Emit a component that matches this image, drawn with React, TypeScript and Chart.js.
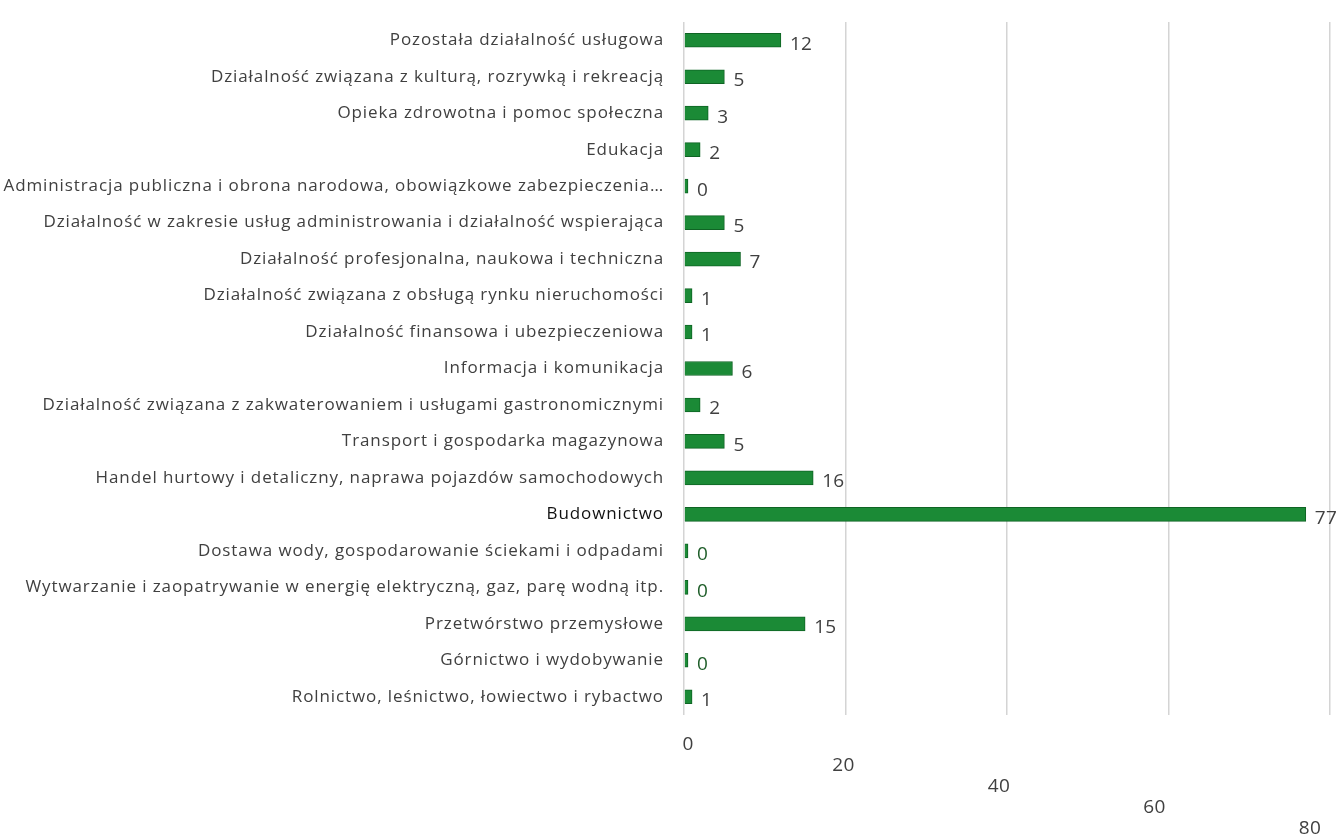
import React, { useEffect, useRef } from "react";
import { Chart, registerables } from "chart.js";
Chart.register(...registerables);

const categories = [
  "Pozostała działalność usługowa",
  "Działalność związana z kulturą, rozrywką i rekreacją",
  "Opieka zdrowotna i pomoc społeczna",
  "Edukacja",
  "Administracja publiczna i obrona narodowa, obowiązkowe zabezpieczenia…",
  "Działalność w zakresie usług administrowania i działalność wspierająca",
  "Działalność profesjonalna, naukowa i techniczna",
  "Działalność związana z obsługą rynku nieruchomości",
  "Działalność finansowa i ubezpieczeniowa",
  "Informacja i komunikacja",
  "Działalność związana z zakwaterowaniem i usługami gastronomicznymi",
  "Transport i gospodarka magazynowa",
  "Handel hurtowy i detaliczny, naprawa pojazdów samochodowych",
  "Budownictwo",
  "Dostawa wody, gospodarowanie ściekami i odpadami",
  "Wytwarzanie i zaopatrywanie w energię elektryczną, gaz, parę wodną itp.",
  "Przetwórstwo przemysłowe",
  "Górnictwo i wydobywanie",
  "Rolnictwo, leśnictwo, łowiectwo i rybactwo",
];
const values = [12, 5, 3, 2, 0, 5, 7, 1, 1, 6, 2, 5, 16, 77, 0, 0, 15, 0, 1];
const xTicks = [0, 20, 40, 60, 80];

const FONT = "'Open Sans', 'Noto Sans', sans-serif";

export default function App() {
  const ref = useRef<HTMLCanvasElement | null>(null);
  useEffect(() => {
    document.body.style.margin = "0";
    const canvas = ref.current;
    if (!canvas) return;
    const spacing = (chart: any, v: string) => {
      (chart.ctx as any).letterSpacing = v;
    };
    const labelPlugin = {
      id: "labels",
      beforeUpdate(chart: any) {
        spacing(chart, "0.9px");
      },
      beforeLayout(chart: any) {
        spacing(chart, "0.9px");
      },
      beforeDraw(chart: any) {
        spacing(chart, "0.9px");
      },
      afterDatasetsDraw(chart: any) {
        const ctx = chart.ctx;
        const meta = chart.getDatasetMeta(0);
        ctx.save();
        ctx.letterSpacing = "0.3px";
        ctx.font = `19px ${FONT}`;
        ctx.textAlign = "left";
        ctx.textBaseline = "middle";
        meta.data.forEach((bar: any, i: number) => {
          ctx.fillStyle = values[i] === 0 && i > 10 ? "#1f5e2a" : "#404040";
          ctx.fillText(String(values[i]), bar.x + 9, bar.y + 4);
        });
        const xs = chart.scales.x;
        const area = chart.chartArea;
        ctx.fillStyle = "#404040";
        ctx.textAlign = "center";
        xTicks.forEach((v, i) => {
          ctx.fillText(String(v), xs.getPixelForValue(v) + 4 - i * 6, area.bottom + 30 + i * 21);
        });
        ctx.restore();
      },
    };
    const chart = new Chart(canvas, {
      type: "bar",
      data: {
        labels: categories,
        datasets: [
          {
            data: values,
            backgroundColor: "#1b8a36",
            borderColor: "#0f6424",
            borderWidth: 1,
            barThickness: 14,
            minBarLength: 4,
          },
        ],
      },
      options: {
        indexAxis: "y",
        animation: false,
        responsive: false,
        maintainAspectRatio: false,
        layout: { padding: { top: 22, bottom: 122, right: 9, left: 0 } },
        plugins: { legend: { display: false }, tooltip: { enabled: false } },
        scales: {
          x: {
            min: 0,
            max: 80,
            ticks: { display: false, stepSize: 20 },
            grid: { color: "#d4d4d4", drawTicks: false, lineWidth: 1.5 },
            border: { display: false },
          },
          y: {
            afterFit(scale: any) {
              scale.width = 684;
              scale.paddingTop = 0;
              scale.paddingBottom = 0;
            },
            ticks: {
              color: (c: any) => (c.index === 13 ? "#111111" : "#404040"),
              font: { family: FONT, size: 17 },
              padding: 20,
            },
            grid: { display: false, drawTicks: false },
            border: { display: false },
          },
        },
      },
      plugins: [labelPlugin],
    } as any);
    return () => chart.destroy();
  }, []);
  return (
    <div style={{ width: 1339, height: 837, background: "#fff" }}>
      <canvas ref={ref} width={1339} height={837} style={{ display: "block" }} />
    </div>
  );
}
